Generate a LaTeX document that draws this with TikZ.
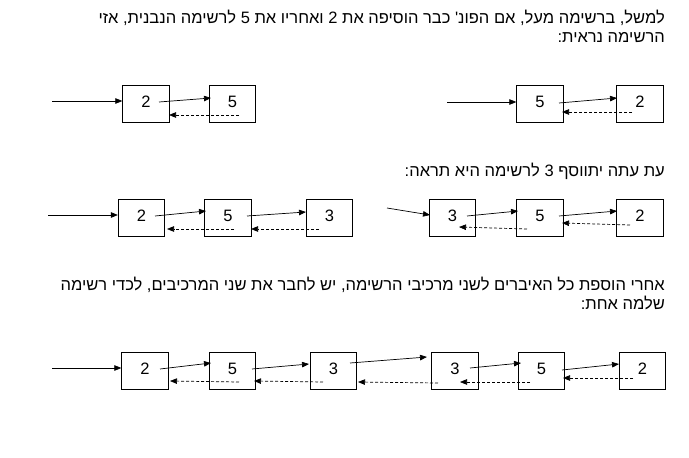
\documentclass[tikz,border=0pt]{standalone}
\usepackage{fontspec}
\setmainfont{Liberation Sans}
\newfontfamily\heb[Script=Hebrew]{Liberation Sans}
\TeXXeTstate=1
\usetikzlibrary{arrows.meta,calc}
\begin{document}
\begin{tikzpicture}[x=1pt,y=-1pt,
  cell/.style={draw,line width=0.8pt,minimum width=46.5pt,minimum height=37pt,inner sep=0pt,text depth=4pt,font=\fontsize{16.5}{19}\selectfont},
  fwd/.style={line width=0.7pt,-{Triangle[length=7pt,width=5.5pt]}},
  bwd/.style={line width=0.7pt,dash pattern=on 3pt off 2pt,-{Triangle[length=7pt,width=5.5pt]}},
  txt/.style={anchor=base east,inner sep=0pt,font=\heb\fontsize{16.5}{19}\selectfont}]
\useasboundingbox (0,0) rectangle (689,458);
% texts
\node[txt] (t1) at (665,23.5) {\beginR למשל, ברשימה מעל, אם הפונ' כבר הוסיפה את 2 ואחריו את 5 לרשימה הנבנית, אזי\endR};
\node[txt] (t2) at (665,42.5) {\beginR הרשימה נראית:\endR};
\node[txt] (t3) at (665,176) {\beginR עת עתה יתווסף 3 לרשימה היא תראה:\endR};
\node[txt] (t4) at (665,290) {\beginR אחרי הוספת כל האיברים לשני מרכיבי הרשימה, יש לחבר את שני המרכיבים, לכדי רשימה\endR};
\node[txt] (t5) at (665,309) {\beginR שלמה אחת:\endR};
% row 1 left
\node[cell] (A2) at (146,103.5) {2};
\node[cell] (A5) at (232.5,103.5) {5};
\coordinate (a0) at (52,101);
\draw[fwd] (a0) -- (a0 -| A2.west);
\draw[fwd] ([shift={(13,-1.5)}]A2.center) -- ([shift={(-21.5,-5.5)}]A5.center);
\draw[bwd] ([shift={(6.5,11.5)}]A5.center) -- ([shift={(23,11.5)}]A2.center);
% row 1 right
\node[cell] (B5) at (540,103.5) {5};
\node[cell] (B2) at (640,103.5) {2};
\coordinate (b0) at (447,102);
\draw[fwd] (b0) -- (b0 -| B5.west);
\draw[fwd] ([shift={(19,-0.5)}]B5.center) -- ([shift={(-23,-5.5)}]B2.center);
\draw[bwd] ([shift={(-8,8.5)}]B2.center) -- ([shift={(22,8.5)}]B5.center);
% row 2 left
\node[cell] (C2) at (141.5,217.5) {2};
\node[cell] (C5) at (228,217.5) {5};
\node[cell] (C3) at (329.5,217.5) {3};
\coordinate (c0) at (48,215);
\draw[fwd] (c0) -- (c0 -| C2.west);
\draw[fwd] ([shift={(13.5,-1.5)}]C2.center) -- ([shift={(-22,-6.5)}]C5.center);
\draw[fwd] ([shift={(19,-1.5)}]C5.center) -- ([shift={(-23.5,-5.5)}]C3.center);
\draw[bwd] ([shift={(6,11.5)}]C5.center) -- ([shift={(25.5,11.5)}]C2.center);
\draw[bwd] ([shift={(-10.5,11.5)}]C3.center) -- ([shift={(23,11.5)}]C5.center);
% row 2 right
\node[cell] (D3) at (452.5,217.5) {3};
\node[cell] (D5) at (540,217.5) {5};
\node[cell] (D2) at (640,217.5) {2};
\coordinate (d0) at (387,208);
\draw[fwd] (d0) -- ([shift={(-22.5,-2.5)}]D3.center);
\draw[fwd] ([shift={(14.5,-1.5)}]D3.center) -- ([shift={(-22,-6.5)}]D5.center);
\draw[fwd] ([shift={(19,-1.5)}]D5.center) -- ([shift={(-23,-6.5)}]D2.center);
\draw[bwd] ([shift={(-13,11.5)}]D5.center) -- ([shift={(6.5,9.5)}]D3.center);
\draw[bwd] ([shift={(-10,7.5)}]D2.center) -- ([shift={(22,5.5)}]D5.center);
% row 3
\node[cell] (E2) at (145,370.5) {2};
\node[cell] (E5) at (232.5,370.5) {5};
\node[cell] (E3) at (333.5,370.5) {3};
\node[cell] (F3) at (455,370.5) {3};
\node[cell] (F5) at (541.5,370.5) {5};
\node[cell] (F2) at (642.5,370.5) {2};
\coordinate (e0) at (52,368);
\draw[fwd] (e0) -- (e0 -| E2.west);
\draw[fwd] ([shift={(15,-1.5)}]E2.center) -- ([shift={(-21.5,-7.5)}]E5.center);
\draw[fwd] ([shift={(19.5,-1.5)}]E5.center) -- ([shift={(-24.5,-6.5)}]E3.center);
\draw[fwd] ([shift={(16.5,-7.5)}]E3.center) -- ([shift={(-28,-13.5)}]F3.center);
\draw[fwd] ([shift={(15,-2.5)}]F3.center) -- ([shift={(-20.5,-7.5)}]F5.center);
\draw[fwd] ([shift={(20.5,-0.5)}]F5.center) -- ([shift={(-23.5,-6.5)}]F2.center);
\draw[bwd] ([shift={(6.5,11.5)}]E5.center) -- ([shift={(25,10.5)}]E2.center);
\draw[bwd] ([shift={(-10.5,11.5)}]E3.center) -- ([shift={(21.5,10.5)}]E5.center);
\draw[bwd] ([shift={(-17,12.5)}]F3.center) -- ([shift={(24.5,11.5)}]E3.center);
\draw[bwd] ([shift={(-11.5,11.5)}]F5.center) -- ([shift={(5,11.5)}]F3.center);
\draw[bwd] ([shift={(-9.5,7.5)}]F2.center) -- ([shift={(21.5,7.5)}]F5.center);
\end{tikzpicture}
\end{document}
